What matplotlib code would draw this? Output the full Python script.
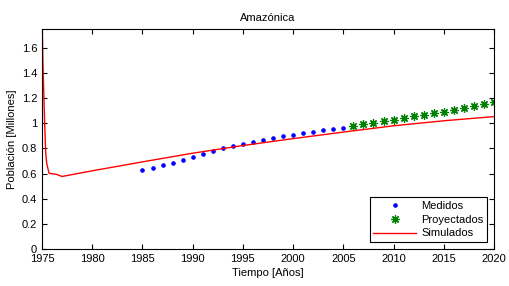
import numpy as np
import matplotlib
matplotlib.use('Agg')
import matplotlib.pyplot as plt
from matplotlib.ticker import FuncFormatter

plt.rcParams['font.family'] = ['Liberation Sans', 'DejaVu Sans']

# Datos medidos (1985-2005)
anios_med = list(range(1985, 2006))
medidos = [0.631, 0.647, 0.668, 0.687, 0.708, 0.729, 0.756, 0.777, 0.801, 0.822,
           0.838, 0.854, 0.867, 0.886, 0.899, 0.910, 0.923, 0.934, 0.945, 0.955, 0.966]

# Datos proyectados (2006-2020)
anios_proy = list(range(2006, 2021))
proyectados = [0.981, 0.994, 1.005, 1.016, 1.026, 1.040, 1.056, 1.069, 1.082, 1.093,
               1.104, 1.119, 1.137, 1.151, 1.167]

# Curva simulada
anios_sim = [1975, 1975.1, 1975.25, 1975.37, 1975.47, 1975.7, 1976.0, 1976.4, 1977,
             1980, 1985, 1990, 1995, 2000, 2005, 2010, 2015, 2020]
simulados = [1.85, 1.45, 1.03, 0.76, 0.68, 0.602, 0.598, 0.595, 0.577,
             0.622, 0.693, 0.762, 0.823, 0.878, 0.93, 0.98, 1.02, 1.053]

fig = plt.figure(figsize=(5.1, 2.86), dpi=100)
ax = fig.add_axes([0.0824, 0.1294, 0.8862, 0.7692])

ax.plot(anios_med, medidos, 'o', color='blue', markersize=2.3, label='Medidos')
ax.plot(anios_proy, proyectados, linestyle='none', marker=(8, 2, 0), color='#008000',
        markersize=6, markeredgewidth=0.9, label='Proyectados')
ax.plot(anios_sim, simulados, '-', color='red', linewidth=1, label='Simulados')

ax.set_xlim(1975, 2020)
ax.set_ylim(0, 1.75)
ax.set_xticks(range(1975, 2021, 5))
ax.set_yticks(np.arange(0, 1.61, 0.2))
ax.yaxis.set_major_formatter(FuncFormatter(lambda v, p: f'{v:g}'))
ax.tick_params(direction='in', top=True, right=True, labelsize=8, length=3.5, width=0.8)
for s in ax.spines.values():
    s.set_linewidth(0.8)

ax.set_title('Amazónica', fontsize=8, pad=6)
ax.set_xlabel('Tiempo [Años]', fontsize=8, labelpad=3)
ax.set_ylabel('Población [Millones]', fontsize=8, labelpad=3)

leg = ax.legend(loc='lower right', fontsize=8, fancybox=False, edgecolor='black',
                framealpha=1, handlelength=3.8, borderpad=0.35, labelspacing=0.35,
                handletextpad=0.5, borderaxespad=0.6)
leg.get_frame().set_linewidth(0.8)

fig.savefig('out.png', dpi=100)
